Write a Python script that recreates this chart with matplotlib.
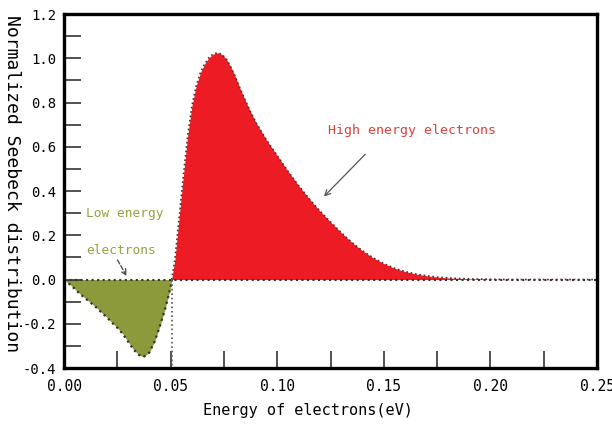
import matplotlib.pyplot as plt

# Low energy lobe (negative contribution)
low_energy = [0.000, 0.0025, 0.005, 0.0075, 0.010, 0.0125, 0.015, 0.0175, 0.020,
              0.0225, 0.025, 0.0275, 0.030, 0.0325, 0.035, 0.0372, 0.040, 0.0425,
              0.045, 0.0475, 0.050, 0.0505]
low_seebeck = [0.0, -0.02, -0.042, -0.065, -0.085, -0.105, -0.125, -0.148, -0.17,
               -0.195, -0.218, -0.245, -0.28, -0.315, -0.34, -0.35, -0.33, -0.28,
               -0.21, -0.13, -0.035, 0.0]

# High energy lobe (positive contribution)
high_energy = [0.0505, 0.052, 0.054, 0.056, 0.058, 0.060, 0.062, 0.064, 0.066, 0.068,
               0.070, 0.072, 0.074, 0.076, 0.078, 0.080, 0.0825, 0.085, 0.0875, 0.090,
               0.095, 0.100, 0.105, 0.110, 0.115, 0.120, 0.125, 0.130, 0.135, 0.140,
               0.145, 0.150, 0.155, 0.160, 0.165, 0.170, 0.175, 0.180, 0.190, 0.200,
               0.210, 0.225, 0.250]
high_seebeck = [0.0, 0.09, 0.28, 0.47, 0.65, 0.785, 0.875, 0.935, 0.975, 1.003,
                1.019, 1.025, 1.018, 0.998, 0.965, 0.925, 0.865, 0.81, 0.758, 0.71,
                0.63, 0.56, 0.49, 0.425, 0.365, 0.31, 0.26, 0.212, 0.168, 0.13,
                0.098, 0.072, 0.051, 0.036, 0.025, 0.017, 0.011, 0.007, 0.003, 0.001,
                0.0, 0.0, 0.0]

x_ticks = [0.00, 0.05, 0.10, 0.15, 0.20, 0.25]
y_ticks = [-0.4, -0.2, 0.0, 0.2, 0.4, 0.6, 0.8, 1.0, 1.2]

font = 'DejaVu Sans Mono'

fig = plt.figure(figsize=(6.12, 4.34), dpi=100)
ax = fig.add_axes([0.1046, 0.152, 0.8709, 0.8157])

ax.fill_between(low_energy, low_seebeck, 0, color='#8C9A3C', lw=0)
ax.fill_between(high_energy, high_seebeck, 0, color='#ED1C24', lw=0)
ax.plot(low_energy, low_seebeck, ls=':', color='#333333', lw=1.6)
ax.plot(high_energy, high_seebeck, ls=':', color='#5a2a2a', lw=1.2)
ax.plot([0.0, 0.25], [0.0, 0.0], ls=':', color='#333333', lw=1.5)
ax.plot([0.0505, 0.0505], [0.0, -0.4], ls=':', color='#555555', lw=1.2)

# annotations
ax.text(0.163, 0.674, 'High energy electrons', color='#E0403A', fontsize=9.5,
        family=font, ha='center', va='center')
ax.annotate('', xy=(0.121, 0.366), xytext=(0.1422, 0.575),
            arrowprops=dict(arrowstyle='->', color='#555555', lw=0.9))
ax.text(0.0103, 0.299, 'Low energy', color='#9AA040', fontsize=9.3,
        family=font, ha='left', va='center')
ax.text(0.0103, 0.131, 'electrons', color='#9AA040', fontsize=9.3,
        family=font, ha='left', va='center')
ax.annotate('', xy=(0.030, 0.005), xytext=(0.0244, 0.0995),
            arrowprops=dict(arrowstyle='->', color='#444444', lw=0.9, ls='--'))

ax.set_xlim(0, 0.25)
ax.set_ylim(-0.4, 1.2)
ax.set_xticks(x_ticks)
ax.set_xticklabels(['%.2f' % v for v in x_ticks], family=font, fontsize=10.5)
ax.set_xticks([0.025, 0.075, 0.125, 0.175, 0.225], minor=True)
ax.set_yticks(y_ticks)
ax.set_yticklabels(['%.1f' % v for v in y_ticks], family=font, fontsize=10)
ax.set_yticks([-0.3, -0.1, 0.1, 0.3, 0.5, 0.7, 0.9, 1.1], minor=True)
ax.tick_params(which='both', direction='in', length=12, width=1.2,
               color='#333333', top=False, right=False)
ax.tick_params(axis='x', pad=8)
ax.tick_params(axis='y', pad=5.5)

for side in ax.spines.values():
    side.set_linewidth(2.4)

ax.set_xlabel('Energy of electrons(eV)', family=font, fontsize=11)
ax.xaxis.set_label_coords(0.458, -0.1)
ax.set_ylabel('Normalized Seebeck distribution', family=font, fontsize=13,
              rotation=270, va='center')
ax.yaxis.set_label_coords(-0.098, 0.52)

fig.savefig('out.png', dpi=100)
